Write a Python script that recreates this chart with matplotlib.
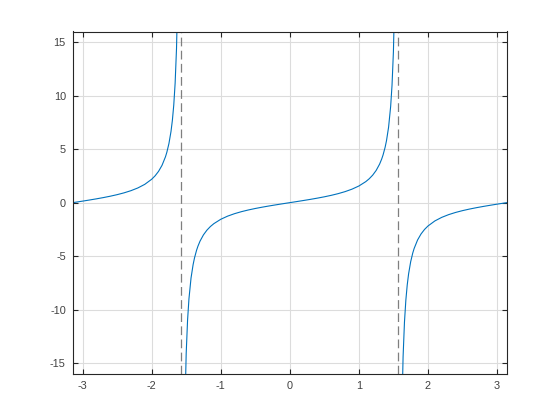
import numpy as np
import matplotlib
matplotlib.use('Agg')
import matplotlib.pyplot as plt

left_x = [-3.1416, -3.1, -3.0, -2.9, -2.8, -2.7, -2.6, -2.5, -2.4, -2.3, -2.2,
          -2.1, -2.0, -1.95, -1.9, -1.85, -1.8, -1.78, -1.75, -1.72, -1.7,
          -1.68, -1.66, -1.64, -1.62, -1.60]
left_y = [0.0, 0.0416, 0.1425, 0.2464, 0.3555, 0.4727, 0.6016, 0.7470, 0.9160,
          1.1192, 1.3738, 1.7098, 2.1850, 2.509, 2.9271, 3.488, 4.2863, 4.711,
          5.5204, 6.653, 7.6966, 9.121, 11.18, 14.43, 20.31, 34.23]

mid_x = [-1.54, -1.52, -1.50, -1.48, -1.46, -1.43, -1.40, -1.38, -1.35, -1.33,
         -1.30, -1.25, -1.20, -1.15, -1.10, -1.00, -0.90, -0.80, -0.70, -0.60,
         -0.50, -0.40, -0.30, -0.20, -0.10, 0.0,
         0.10, 0.20, 0.30, 0.40, 0.50, 0.60, 0.70, 0.80, 0.90, 1.00, 1.10,
         1.15, 1.20, 1.25, 1.30, 1.33, 1.35, 1.38, 1.40, 1.43, 1.46, 1.48,
         1.50, 1.52, 1.54]
mid_y = [-32.46, -19.67, -14.10, -10.98, -8.989, -7.05, -5.798, -5.177, -4.455,
         -4.073, -3.602, -3.0096, -2.572, -2.2345, -1.965, -1.557, -1.2602,
         -1.030, -0.8423, -0.684, -0.5463, -0.423, -0.3093, -0.203, -0.1003, 0.0,
         0.1003, 0.203, 0.3093, 0.423, 0.5463, 0.684, 0.8423, 1.030, 1.2602,
         1.557, 1.965, 2.2345, 2.572, 3.0096, 3.602, 4.073, 4.455, 5.177, 5.798,
         7.05, 8.989, 10.98, 14.10, 19.67, 32.46]

right_x = [1.60, 1.62, 1.64, 1.66, 1.68, 1.70, 1.72, 1.75, 1.78, 1.8, 1.85, 1.9,
           1.95, 2.0, 2.1, 2.2, 2.3, 2.4, 2.5, 2.6, 2.7, 2.8, 2.9, 3.0, 3.1,
           3.1416]
right_y = [-34.23, -20.31, -14.43, -11.18, -9.121, -7.6966, -6.653, -5.5204,
           -4.711, -4.2863, -3.488, -2.9271, -2.509, -2.1850, -1.7098, -1.3738,
           -1.1192, -0.9160, -0.7470, -0.6016, -0.4727, -0.3555, -0.2464,
           -0.1425, -0.0416, 0.0]

asymptotes = [-np.pi / 2, np.pi / 2]
xticks = [-3, -2, -1, 0, 1, 2, 3]
yticks = [-15, -10, -5, 0, 5, 10, 15]

fig = plt.figure(figsize=(5.6, 4.2), dpi=100)
ax = fig.add_axes([0.13, 0.11, 0.775, 0.815])

blue = '#0072BD'
for xs, ys in [(left_x, left_y), (mid_x, mid_y), (right_x, right_y)]:
    ax.plot(xs, ys, color=blue, linewidth=0.8)

for a in asymptotes:
    ax.plot([a, a], [-16, 16], color='#7f7f7f', linewidth=0.9,
            linestyle=(0, (7, 3.5)))

ax.set_xlim(-np.pi, np.pi)
ax.set_ylim(-16, 16)
ax.set_xticks(xticks)
ax.set_yticks(yticks)
ax.set_xticklabels([str(t) for t in xticks])
ax.set_yticklabels([str(t) for t in yticks])

ax.grid(True, color='#dcdcdc', linewidth=0.8)
ax.set_axisbelow(True)
ax.tick_params(direction='in', length=3.5, width=0.8, top=True, right=True,
               labelsize=7.8, colors='#262626', labelcolor='#404040', pad=5)
for lab in ax.get_xticklabels() + ax.get_yticklabels():
    lab.set_family(['Liberation Sans', 'DejaVu Sans'])
for s in ax.spines.values():
    s.set_color('#262626')
    s.set_linewidth(0.8)

fig.savefig('out.png', dpi=100)
